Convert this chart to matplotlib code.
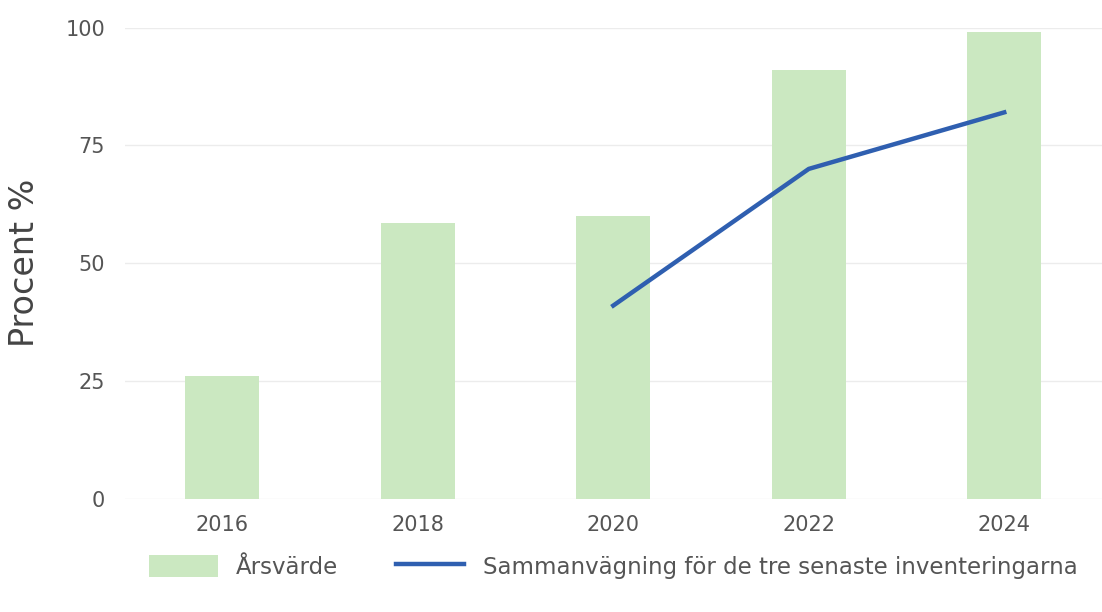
import matplotlib.pyplot as plt

years = ["2016", "2018", "2020", "2022", "2024"]
arsvarde = [26, 58.5, 60, 91, 99]
line_years = ["2020", "2022", "2024"]
sammanvagning = [41, 70, 82]

fig = plt.figure(figsize=(11.02, 6.12), dpi=100)
ax = fig.add_axes([0.113, 0.185, 0.887, 0.77])

x = range(len(years))
bars = ax.bar(x, arsvarde, width=0.38, color="#cbe8c1", label="Årsvärde", zorder=2)
lx = [years.index(y) for y in line_years]
line, = ax.plot(lx, sammanvagning, color="#2f5fb0", linewidth=3.2,
                label="Sammanvägning för de tre senaste inventeringarna", zorder=3)

ax.set_xlim(-0.5, 4.5)
ax.set_ylim(0, 100)
ax.set_yticks([0, 25, 50, 75, 100])
ax.set_xticks(list(x))
ax.set_xticklabels(years)
ax.grid(axis="y", color="#ececec", linewidth=1, zorder=0)
for s in ax.spines.values():
    s.set_visible(False)
ax.tick_params(length=0, labelsize=15, colors="#555555", pad=14)
ax.tick_params(axis="x", pad=12)
ax.set_ylabel("Procent %", fontsize=24, color="#444444")
ax.yaxis.set_label_coords(-0.085, 0.5)

ax.legend(handles=[bars, line], loc="upper center", bbox_to_anchor=(0.5, -0.075), ncol=2,
          frameon=False, fontsize=16.5, labelcolor="#555555", handlelength=3.0,
          handleheight=1.1, columnspacing=2.5)

fig.savefig("out.png", dpi=100)
